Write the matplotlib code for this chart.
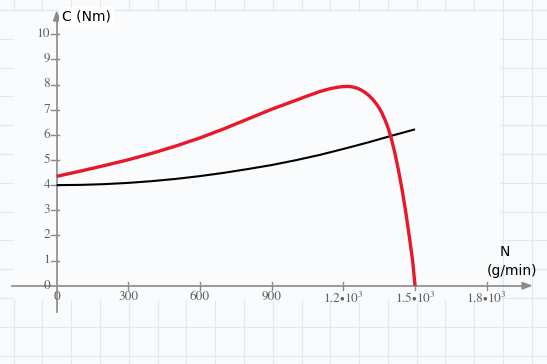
import matplotlib
matplotlib.use("Agg")
import matplotlib.pyplot as plt
import numpy as np

# ---- data ----
n_black = [0, 100, 200, 300, 400, 500, 600, 700, 800, 900, 1000, 1100, 1200, 1300, 1400, 1500]
c_black = [4.00, 4.01, 4.04, 4.09, 4.16, 4.25, 4.36, 4.49, 4.64, 4.80, 4.99, 5.20, 5.44, 5.69, 5.96, 6.22]

n_red = [0, 100, 200, 300, 400, 500, 600, 700, 800, 900, 1000, 1050, 1100, 1150, 1180, 1200, 1215,
         1230, 1245, 1260, 1275, 1290, 1305, 1320, 1335, 1350, 1362, 1375, 1388, 1400, 1415,
         1430, 1445, 1460, 1475, 1490, 1500]
c_red = [4.35, 4.56, 4.78, 5.01, 5.27, 5.56, 5.88, 6.24, 6.63, 7.02, 7.37, 7.55, 7.72, 7.85, 7.90, 7.92, 7.93,
         7.92, 7.89, 7.85, 7.78, 7.69, 7.58, 7.44, 7.27, 7.07, 6.86, 6.58, 6.25, 5.88, 5.30,
         4.62, 3.86, 3.00, 2.02, 0.98, 0.0]

x_ticks = [0, 300, 600, 900, 1200, 1500, 1800]
x_tick_labels = ["0", "300", "600", "900", r"$1.2{\bullet}10^{3}$", r"$1.5{\bullet}10^{3}$", r"$1.8{\bullet}10^{3}$"]
y_ticks = list(range(0, 11))
y_tick_labels = [str(v) for v in y_ticks]

plt.rcParams["mathtext.fontset"] = "stix"

W, H = 547, 364
fig = plt.figure(figsize=(W / 100, H / 100), dpi=100)
fig.patch.set_facecolor("#f8fafc")
ax = fig.add_axes([0, 0, 1, 1])
ax.set_facecolor("none")
for s in ax.spines.values():
    s.set_visible(False)
ax.set_xticks([])
ax.set_yticks([])

# pixel calibration
x0px, xs = 56.7, 71.67 / 300.0
y0px, ys = 285.7, 25.14
ax.set_xlim(-x0px / xs, (W - x0px) / xs)
ax.set_ylim(-(H - y0px) / ys, y0px / ys)

def px(xp):
    return (xp - x0px) / xs

def py(yp):
    return (y0px - yp) / ys

# faint graph-paper grid
grid_c = "#dde9f6"
gx = np.arange(13.5, W, 28.8)
gy = np.arange(10.0, H, 28.8)
for g in gx:
    ax.axvline(px(g), color=grid_c, lw=0.8, zorder=0)
for g in gy:
    ax.axhline(py(g), color=grid_c, lw=0.8, zorder=0)
ax.add_patch(plt.Rectangle((px(14), py(300)), px(500) - px(14), py(12) - py(300),
                           facecolor="#f9fbfc", edgecolor="none", zorder=0.5))

axis_c = "#8a8a8a"
# x axis with arrow
ax.plot([px(12), px(524)], [0, 0], color=axis_c, lw=1.2, zorder=2)
ax.add_patch(plt.Polygon([[px(531), 0], [px(522), py(282.5)], [px(522), py(289)]],
                         closed=True, color=axis_c, zorder=2))
# y axis with arrow
ax.plot([0, 0], [py(312), py(20)], color=axis_c, lw=1.2, zorder=2)
ax.add_patch(plt.Polygon([[0, py(12)], [px(53.5), py(21)], [px(60), py(21)]],
                         closed=True, color=axis_c, zorder=2))

# ticks
for t, lab in zip(x_ticks, x_tick_labels):
    if t != 0:
        ax.plot([t, t], [py(282), py(290)], color=axis_c, lw=1.0, zorder=2)
    ax.text(t, py(291), lab, ha="center", va="top", fontsize=9.5,
            family=["STIXGeneral", "Liberation Serif", "DejaVu Serif"], color="#5e5e5e", zorder=3)
for t, lab in zip(y_ticks, y_tick_labels):
    if t != 0:
        ax.plot([px(51), px(59)], [t, t], color=axis_c, lw=1.0, zorder=2)
    ax.text(px(50), t, lab, ha="right", va="center", fontsize=9.5,
            family=["STIXGeneral", "Liberation Serif", "DejaVu Serif"], color="#5e5e5e", zorder=3)

# curves
ax.plot(n_black, c_black, color="black", lw=1.5, zorder=4, solid_capstyle="butt")
ax.plot(n_red, c_red, color="#e8172a", lw=2.4, zorder=5, solid_capstyle="butt",
        solid_joinstyle="round")

# labels
ax.text(px(62), py(17), "C (Nm)", ha="left", va="center", fontsize=10,
        family=["DejaVu Sans"], color="black", zorder=6,
        bbox=dict(boxstyle="square,pad=0.25", facecolor="white", edgecolor="none"))
ax.text(px(505), py(252), "N", ha="center", va="center", fontsize=10,
        family=["DejaVu Sans"], color="black", zorder=6)
ax.text(px(512), py(271), "(g/min)", ha="center", va="center", fontsize=10,
        family=["DejaVu Sans"], color="black", zorder=6)

fig.savefig("out.png", dpi=100, facecolor=fig.get_facecolor())
